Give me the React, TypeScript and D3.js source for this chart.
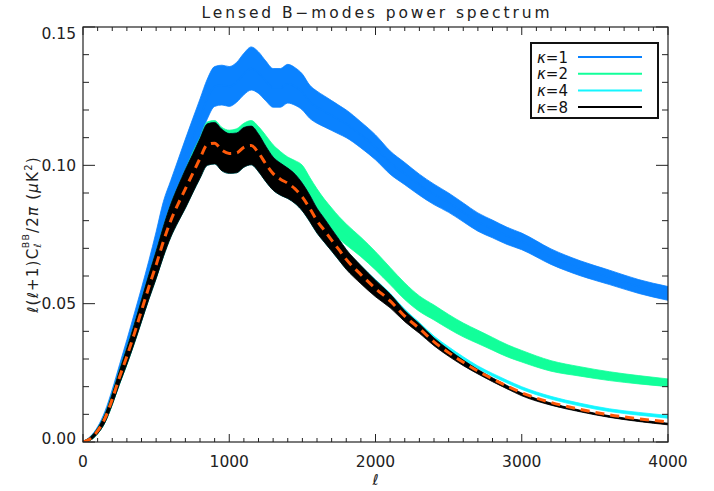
import React from "react";
import * as d3 from "d3";

const ell = [0,50,100,150,200,250,300,350,400,450,500,550,600,650,700,750,800,850,900,950,1000,1050,1100,1150,1200,1250,1300,1350,1400,1450,1500,1550,1600,1650,1700,1750,1800,1900,2000,2100,2200,2300,2400,2500,2600,2700,2800,2900,3000,3200,3400,3600,3800,4000];

const theory = [0,0.0012,0.004,0.0085,0.0155,0.0235,0.031,0.039,0.0475,0.056,0.064,0.0725,0.080,0.086,0.0915,0.097,0.1025,0.1075,0.108,0.1055,0.1043,0.1045,0.1065,0.1072,0.1045,0.1005,0.097,0.095,0.0935,0.0915,0.0885,0.0845,0.080,0.0765,0.073,0.0695,0.066,0.0605,0.0555,0.051,0.0455,0.041,0.0362,0.0323,0.0288,0.0256,0.0228,0.0202,0.0178,0.0143,0.0118,0.0098,0.0084,0.0073];

const k8Mid = [0,0.0012,0.004,0.0085,0.0155,0.0235,0.031,0.039,0.0475,0.056,0.064,0.0725,0.080,0.086,0.0915,0.097,0.1025,0.1075,0.108,0.1055,0.1043,0.1045,0.1065,0.1072,0.1045,0.1005,0.097,0.095,0.0935,0.0915,0.0885,0.0845,0.080,0.0765,0.073,0.0695,0.066,0.0605,0.0555,0.051,0.0455,0.041,0.0362,0.0322,0.0286,0.0254,0.0225,0.0198,0.0172,0.0137,0.0112,0.0092,0.0077,0.0065];
const k8Spread = [0.0003,0.0006,0.001,0.0015,0.002,0.0025,0.003,0.0035,0.004,0.0045,0.005,0.0055,0.006,0.0065,0.007,0.007,0.0072,0.0075,0.0075,0.0075,0.0072,0.0072,0.0072,0.007,0.0068,0.0064,0.006,0.0058,0.0055,0.0053,0.005,0.0048,0.0045,0.0043,0.004,0.0038,0.0036,0.0033,0.003,0.0025,0.002,0.0017,0.0014,0.0012,0.001,0.0008,0.0007,0.0006,0.0005,0.0004,0.0003,0.0003,0.0003,0.0003];

const k4Mid = [0,0.0012,0.004,0.0085,0.0155,0.0235,0.031,0.039,0.0475,0.056,0.064,0.0725,0.080,0.086,0.0915,0.097,0.1025,0.1075,0.108,0.1055,0.1043,0.1045,0.1065,0.1072,0.1045,0.1005,0.097,0.095,0.0935,0.0915,0.0885,0.0845,0.080,0.0765,0.073,0.0695,0.066,0.0608,0.0562,0.0518,0.0465,0.042,0.0373,0.0336,0.0302,0.027,0.0243,0.0218,0.0195,0.016,0.0135,0.0115,0.0102,0.0091];
const k4Spread = [0.0003,0.0006,0.001,0.0015,0.002,0.0025,0.003,0.0035,0.004,0.0045,0.005,0.0055,0.006,0.0065,0.007,0.007,0.0072,0.0075,0.0075,0.0075,0.0072,0.0072,0.0072,0.007,0.0068,0.0064,0.006,0.0058,0.0055,0.0053,0.005,0.0048,0.0045,0.0043,0.004,0.0038,0.0035,0.003,0.0025,0.002,0.0015,0.0012,0.001,0.0008,0.0006,0.0005,0.0005,0.0005,0.0005,0.0005,0.0005,0.0005,0.0005,0.0005];

const k2Mid = [0,0.0012,0.004,0.0085,0.0155,0.0235,0.031,0.039,0.0475,0.056,0.064,0.0725,0.080,0.086,0.0918,0.0978,0.103,0.1085,0.109,0.1065,0.1055,0.106,0.108,0.109,0.1068,0.104,0.101,0.099,0.0975,0.0965,0.095,0.091,0.087,0.0835,0.0805,0.0775,0.075,0.0705,0.0655,0.060,0.0545,0.050,0.0468,0.0435,0.0405,0.038,0.0355,0.033,0.031,0.0275,0.0255,0.0238,0.0225,0.0214];
const k2Spread = [0.0003,0.0006,0.001,0.0015,0.002,0.0025,0.003,0.0033,0.0037,0.004,0.0045,0.005,0.0055,0.006,0.0065,0.0068,0.007,0.0072,0.0072,0.0072,0.0072,0.0072,0.0072,0.0072,0.0072,0.0068,0.0064,0.006,0.0055,0.0052,0.005,0.0047,0.0045,0.0043,0.0041,0.004,0.0038,0.0035,0.0033,0.0031,0.003,0.0028,0.0027,0.0026,0.0025,0.0024,0.0023,0.0022,0.0021,0.0019,0.0017,0.0016,0.0015,0.0014];

const k1Mid = [0,0.0013,0.0045,0.0095,0.017,0.0255,0.034,0.043,0.052,0.0615,0.0715,0.082,0.089,0.096,0.103,0.110,0.117,0.124,0.1285,0.129,0.1285,0.130,0.133,0.135,0.1335,0.1305,0.128,0.128,0.1295,0.1285,0.1265,0.123,0.121,0.1195,0.118,0.1165,0.115,0.111,0.1065,0.101,0.097,0.093,0.0895,0.0865,0.083,0.0795,0.077,0.0745,0.0725,0.067,0.0628,0.0595,0.0562,0.0537];
const k1Spread = [0.0003,0.0007,0.001,0.0016,0.002,0.0025,0.003,0.0033,0.0037,0.004,0.0045,0.005,0.0055,0.006,0.0065,0.0068,0.007,0.0072,0.0072,0.0072,0.0072,0.0072,0.0075,0.0078,0.0075,0.0072,0.007,0.007,0.007,0.0068,0.0065,0.006,0.0058,0.0056,0.0054,0.0052,0.005,0.0047,0.0045,0.0042,0.004,0.0038,0.0037,0.0035,0.0034,0.0033,0.0032,0.0031,0.003,0.0028,0.0027,0.0026,0.0025,0.0025];

const seriesNames = ["1", "2", "4", "8"];
const seriesColors = ["#0a82ff", "#12ff9a", "#14f6ff", "#000000"];
const seriesMids = [k1Mid, k2Mid, k4Mid, k8Mid];
const seriesSpreads = [k1Spread, k2Spread, k4Spread, k8Spread];

const xTickValues = [0, 1000, 2000, 3000, 4000];
const xTickLabels = ["0", "1000", "2000", "3000", "4000"];
const yTickValues = [0, 0.05, 0.1, 0.15];
const yTickLabels = ["0.00", "0.05", "0.10", "0.15"];

const W = 714, H = 491;
const L = 83, R = 668, T = 27, B = 442;

export default function App() {
  const x = d3.scaleLinear().domain([0, 4000]).range([L, R]);
  const y = d3.scaleLinear().domain([0, 0.15]).range([B, T]);
  const xMinor = d3.range(0, 4001, 100);
  const yMinor = d3.range(0, 16).map((i) => i * 0.01);
  const axisColor = "#222";
  const font = "'DejaVu Sans', sans-serif";

  const bands = seriesMids.map((mid, s) => {
    const sp = seriesSpreads[s];
    const area =
      d3
        .area<number>()
        .x((_, i) => x(ell[i]))
        .y0((_, i) => y(mid[i] - sp[i]))
        .y1((_, i) => y(mid[i] + sp[i]))
        .curve(d3.curveMonotoneX)(mid) || "";
    const line =
      d3
        .line<number>()
        .x((_, i) => x(ell[i]))
        .y((d) => y(d))
        .curve(d3.curveMonotoneX)(mid) || "";
    return { area, line };
  });
  const theoryLine =
    d3
      .line<number>()
      .x((_, i) => x(ell[i]))
      .y((d) => y(d))
      .curve(d3.curveMonotoneX)(theory) || "";

  return (
    <svg
      width={W}
      height={H}
      style={{ position: "absolute", left: 0, top: 0, background: "#fff" }}
      fontFamily={font}
    >
      <defs>
        <clipPath id="plotClip">
          <rect x={L} y={T} width={R - L} height={B - T} />
        </clipPath>
      </defs>
      <rect x={0} y={0} width={W} height={H} fill="#fff" />
      <text x={(L + R) / 2} y={18} textAnchor="middle" fontSize={15.5} fill={axisColor} textLength={348} lengthAdjust="spacing">
        Lensed B−modes power spectrum
      </text>

      <g clipPath="url(#plotClip)">
        {bands.map((b, s) => (
          <g key={s}>
            <path d={b.area} fill={seriesColors[s]} stroke={seriesColors[s]} strokeWidth={0.8} />
            <path d={b.line} fill="none" stroke={seriesColors[s]} strokeWidth={1.6} />
          </g>
        ))}
        <path d={theoryLine} fill="none" stroke="#ff5a0a" strokeWidth={3} strokeDasharray="9 6" />
      </g>

      <rect x={L} y={T} width={R - L} height={B - T} fill="none" stroke={axisColor} strokeWidth={1.2} />

      {xMinor.map((v) => {
        const major = v % 1000 === 0;
        const len = major ? 8 : 4;
        return (
          <g key={"xt" + v}>
            <line x1={x(v)} x2={x(v)} y1={B} y2={B - len} stroke={axisColor} strokeWidth={1} />
            <line x1={x(v)} x2={x(v)} y1={T} y2={T + len} stroke={axisColor} strokeWidth={1} />
          </g>
        );
      })}
      {yMinor.map((v, i) => {
        const major = i % 5 === 0;
        const len = major ? 12 : 6;
        return (
          <g key={"yt" + i}>
            <line x1={L} x2={L + len} y1={y(v)} y2={y(v)} stroke={axisColor} strokeWidth={1} />
            <line x1={R} x2={R - len} y1={y(v)} y2={y(v)} stroke={axisColor} strokeWidth={1} />
          </g>
        );
      })}
      {xTickValues.map((v, i) => (
        <text key={"xl" + i} x={x(v)} y={467} textAnchor="middle" fontSize={15.5} fill={axisColor}>
          {xTickLabels[i]}
        </text>
      ))}
      {yTickValues.map((v, i) => {
        const cy = Math.min(Math.max(y(v), 33), 438);
        return (
          <text key={"yl" + i} x={76} y={cy + 5.5} textAnchor="end" fontSize={15.5} fill={axisColor}>
            {yTickLabels[i]}
          </text>
        );
      })}

      <text x={(L + R) / 2} y={485} textAnchor="middle" fontSize={15} fontStyle="italic" fill={axisColor}>
        ℓ
      </text>

      <text
        transform={`translate(38, ${(T + B) / 2}) rotate(-90)`}
        textAnchor="middle"
        fontSize={15}
        letterSpacing={1.2}
        fill={axisColor}
      >
        <tspan fontStyle="italic">ℓ</tspan>
        <tspan>(</tspan>
        <tspan fontStyle="italic">ℓ</tspan>
        <tspan>+1)C</tspan>
        <tspan fontSize={10} dy={3} fontStyle="italic">ℓ</tspan>
        <tspan fontSize={9.5} dx={-6} dy={-12}>BB</tspan>
        <tspan dy={9}>/2</tspan>
        <tspan fontStyle="italic">π</tspan>
        <tspan>  (</tspan>
        <tspan fontStyle="italic">μ</tspan>
        <tspan>K</tspan>
        <tspan fontSize={10} dy={-6}>2</tspan>
        <tspan dy={6}>)</tspan>
      </text>

      <rect x={531} y={43} width={127} height={75} fill="#fff" stroke="#111" strokeWidth={2} />
      {seriesNames.map((n, i) => {
        const ry = 57 + i * 16.7;
        return (
          <g key={"lg" + i}>
            <text x={537} y={ry + 5.5} fontSize={15} fill="#111">
              <tspan fontStyle="italic">κ</tspan>
              <tspan>=</tspan>
              <tspan>{n}</tspan>
            </text>
            <line x1={578} x2={642} y1={ry} y2={ry} stroke={seriesColors[i]} strokeWidth={2} />
          </g>
        );
      })}
    </svg>
  );
}
